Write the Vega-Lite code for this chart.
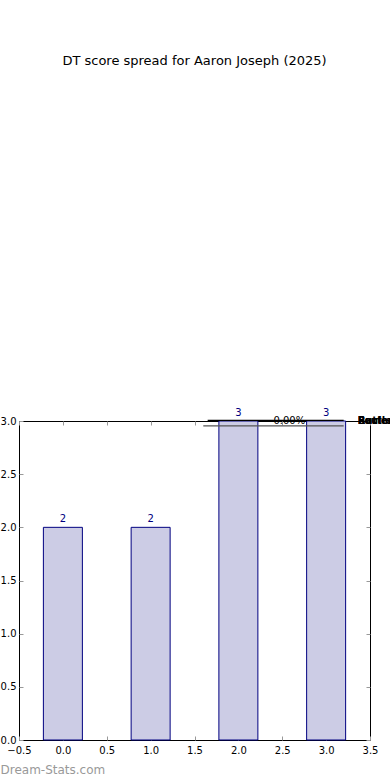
{
  "$schema": "https://vega.github.io/schema/vega-lite/v6.json",
  "width": 351,
  "height": 319,
  "autosize": "none",
  "padding": {"left": 19, "top": 421, "right": 20, "bottom": 40},
  "background": "white",
  "title": {"text": "DT score spread for Aaron Joseph (2025)", "font": "DejaVu Sans", "fontSize": 13, "fontWeight": "normal", "color": "black", "offset": 340, "anchor": "middle"},
  "config": {
    "view": {"stroke": "black", "strokeWidth": 1},
    "axis": {"labelFont": "DejaVu Sans", "labelFontSize": 10, "labelColor": "black", "domain": false, "grid": false, "tickColor": "#999999", "tickSize": -4, "tickWidth": 1, "labelPadding": 7, "labelFlush": false, "labelOverlap": false, "titleFont": "DejaVu Sans"}
  },
  "datasets": {
    "bars": [
      {"score": 0, "count": 2},
      {"score": 1, "count": 2},
      {"score": 2, "count": 3},
      {"score": 3, "count": 3}
    ],
    "pct": [{"x": 2.58, "y": 3.0, "label": "0.00%"}],
    "seg": [{"x": 1.6, "x2": 3.2, "y": 2.955}],
    "seg2": [{"x": 1.65, "x2": 3.2, "y": 3.005}],
    "words": [
      {"x": 3.36, "y": 3.0, "label": "Rattled"},
      {"x": 3.36, "y": 3.0, "label": "Fouled"},
      {"x": 3.36, "y": 3.0, "label": "Buried"}
    ]
  },
  "layer": [
    {
      "data": {"name": "bars"},
      "mark": {"type": "bar", "size": 39, "fill": "#ccccE5", "stroke": "#000080", "strokeWidth": 1},
      "encoding": {
        "x": {"field": "score", "type": "quantitative", "scale": {"domain": [-0.5, 3.5], "nice": false, "zero": false, "padding": 0},
          "axis": {"values": [-0.5, 0, 0.5, 1, 1.5, 2, 2.5, 3, 3.5], "format": ".1f", "labelPadding": 9, "title": "Dream-Stats.com", "titleAnchor": "start", "titleX": -19, "titleY": 24, "titleAlign": "left", "titleColor": "#999999", "titleFontSize": 12, "titleFontWeight": "normal"}},
        "y": {"field": "count", "type": "quantitative", "scale": {"domain": [0, 3], "nice": false, "padding": 0},
          "axis": {"values": [0, 0.5, 1, 1.5, 2, 2.5, 3], "format": ".1f", "title": null, "labelPadding": 7}}
      }
    },
    {
      "data": {"name": "bars"},
      "mark": {"type": "text", "font": "DejaVu Sans", "fontSize": 10, "color": "#000080", "dy": -8, "clip": false},
      "encoding": {
        "x": {"field": "score", "type": "quantitative", "axis": {"orient": "top", "labels": false, "title": null, "values": [-0.5, 0, 0.5, 1, 1.5, 2, 2.5, 3, 3.5]}},
        "y": {"field": "count", "type": "quantitative", "axis": {"orient": "right", "labels": false, "title": null, "values": [0, 0.5, 1, 1.5, 2, 2.5, 3]}},
        "text": {"field": "count", "type": "quantitative"}
      }
    },
    {
      "data": {"name": "seg"},
      "mark": {"type": "rule", "color": "#555555", "strokeWidth": 1.2, "clip": false},
      "encoding": {
        "x": {"field": "x", "type": "quantitative", "axis": null},
        "x2": {"field": "x2"},
        "y": {"field": "y", "type": "quantitative", "axis": null}
      }
    },
    {
      "data": {"name": "seg2"},
      "mark": {"type": "rule", "color": "black", "strokeWidth": 1.2, "clip": false},
      "encoding": {
        "x": {"field": "x", "type": "quantitative", "axis": null},
        "x2": {"field": "x2"},
        "y": {"field": "y", "type": "quantitative", "axis": null}
      }
    },
    {
      "data": {"name": "pct"},
      "mark": {"type": "text", "font": "DejaVu Sans", "fontSize": 10, "color": "black", "clip": false},
      "encoding": {
        "x": {"field": "x", "type": "quantitative", "axis": null},
        "y": {"field": "y", "type": "quantitative", "axis": null},
        "text": {"field": "label"}
      }
    },
    {
      "data": {"name": "words"},
      "mark": {"type": "text", "font": "DejaVu Sans", "fontSize": 10, "fontWeight": "bold", "color": "black", "align": "left", "clip": false},
      "encoding": {
        "x": {"field": "x", "type": "quantitative", "axis": null},
        "y": {"field": "y", "type": "quantitative", "axis": null},
        "text": {"field": "label"}
      }
    }
  ],
  "resolve": {"axis": {"x": "independent", "y": "independent"}}
}
